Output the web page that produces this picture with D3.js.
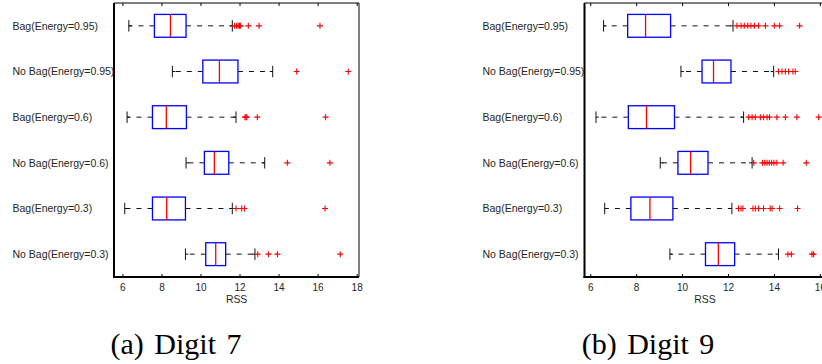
<!DOCTYPE html>
<html>
<head>
<meta charset="utf-8">
<script src="https://cdn.jsdelivr.net/npm/d3@7/dist/d3.min.js"></script>
<style>
  html, body { margin: 0; padding: 0; background: #fff; }
  svg { display: block; }
  .lbl { font-family: "Liberation Sans", Arial, Helvetica, sans-serif; fill: #262626; }
  .cap { font-family: "Liberation Serif", "Times New Roman", serif; fill: #000; word-spacing: 3px; }
</style>
</head>
<body>
<svg id="chart" width="822" height="364"></svg>
<script>
// Row labels, top to bottom
const categories = [
  "Bag(Energy=0.95)", "No Bag(Energy=0.95)",
  "Bag(Energy=0.6)",  "No Bag(Energy=0.6)",
  "Bag(Energy=0.3)",  "No Bag(Energy=0.3)"
];
const xTicks = [6, 8, 10, 12, 14, 16, 18];

// Digit 7 box statistics (RSS)
const digit7Low    = [6.33, 8.56, 6.24, 9.26, 6.12, 9.23];
const digit7Q1     = [7.64, 10.12, 7.54, 10.20, 7.54, 10.27];
const digit7Median = [8.46, 10.97, 8.25, 10.71, 8.27, 10.78];
const digit7Q3     = [9.26, 11.92, 9.28, 11.45, 9.23, 11.29];
const digit7High   = [11.63, 13.70, 11.82, 13.29, 11.63, 12.79];
const digit7Outliers = [
  [11.75, 11.85, 11.93, 12.00, 12.06, 12.45, 13.00, 16.12],
  [14.93, 17.57],
  [12.28, 12.33, 12.37, 12.91, 16.41],
  [14.45, 16.63],
  [11.82, 12.11, 12.25, 16.38],
  [12.93, 13.48, 13.94, 17.16]
];

// Digit 9 box statistics (RSS)
const digit9Low    = [6.58, 9.95, 6.25, 9.05, 6.63, 9.47];
const digit9Q1     = [7.63, 10.87, 7.66, 9.82, 7.77, 11.02];
const digit9Median = [8.41, 11.37, 8.45, 10.37, 8.60, 11.58];
const digit9Q3     = [9.50, 12.13, 9.67, 11.13, 9.60, 12.29];
const digit9High   = [12.22, 13.99, 12.68, 13.05, 12.17, 14.20];
const digit9Outliers = [
  [12.39, 12.57, 12.71, 12.86, 13.00, 13.15, 13.33, 13.63, 14.02, 14.25, 15.12],
  [14.20, 14.35, 14.50, 14.64, 14.83, 14.93],
  [12.90, 13.05, 13.19, 13.41, 13.55, 13.70, 13.81, 14.13, 14.50, 15.00, 15.95],
  [13.12, 13.50, 13.60, 13.70, 13.80, 13.90, 14.00, 14.13, 14.40, 15.41],
  [12.46, 12.57, 12.65, 13.09, 13.19, 13.33, 13.55, 13.84, 13.92, 14.25, 15.03],
  [14.61, 14.76, 15.66, 15.73]
];

const captions = ["(a) Digit 7", "(b) Digit 9"];

const svg = d3.select("#chart");

function build(low, q1, med, q3, high, outl) {
  return categories.map((c, i) => ({
    name: c, low: low[i], q1: q1[i], med: med[i], q3: q3[i], high: high[i], out: outl[i]
  }));
}

function drawPanel(cfg) {
  const g = svg.append("g");
  const x = d3.scaleLinear().domain(cfg.domain).range([cfg.left, cfg.right]);
  const y = d3.scaleBand().domain(categories).range([cfg.top, cfg.bottom]);
  const bw = y.bandwidth();
  const boxH = bw * 0.5;
  const capH = bw * 0.25;

  // row labels
  g.selectAll("text.row").data(cfg.rows).join("text")
    .attr("class", "lbl")
    .attr("x", cfg.labelX)
    .attr("y", d => y(d.name) + bw / 2)
    .attr("dy", "0.36em")
    .attr("font-size", 10.5)
    .text(d => d.name);

  const rowsG = g.selectAll("g.row").data(cfg.rows).join("g")
    .attr("transform", d => `translate(0,${y(d.name) + bw / 2})`);

  // dashed whiskers
  rowsG.append("line")
    .attr("x1", d => x(d.q1)).attr("x2", d => x(d.low))
    .attr("stroke", "#111").attr("stroke-width", 1)
    .attr("stroke-dasharray", "5,6");
  rowsG.append("line")
    .attr("x1", d => x(d.q3)).attr("x2", d => x(d.high))
    .attr("stroke", "#111").attr("stroke-width", 1)
    .attr("stroke-dasharray", "5,6");
  // whisker caps
  rowsG.append("line")
    .attr("x1", d => x(d.low)).attr("x2", d => x(d.low))
    .attr("y1", -capH / 2).attr("y2", capH / 2)
    .attr("stroke", "#111").attr("stroke-width", 1);
  rowsG.append("line")
    .attr("x1", d => x(d.high)).attr("x2", d => x(d.high))
    .attr("y1", -capH / 2).attr("y2", capH / 2)
    .attr("stroke", "#111").attr("stroke-width", 1);
  // short stubs next to the caps
  rowsG.append("line")
    .attr("x1", d => x(d.low)).attr("x2", d => x(d.low) + 3)
    .attr("stroke", "#111").attr("stroke-width", 1);
  rowsG.append("line")
    .attr("x1", d => x(d.high) - 3).attr("x2", d => x(d.high))
    .attr("stroke", "#111").attr("stroke-width", 1);

  // box
  rowsG.append("rect")
    .attr("x", d => x(d.q1)).attr("width", d => x(d.q3) - x(d.q1))
    .attr("y", -boxH / 2).attr("height", boxH)
    .attr("fill", "#fff").attr("stroke", "#0000ff").attr("stroke-width", 1.3);
  // median
  rowsG.append("line")
    .attr("x1", d => x(d.med)).attr("x2", d => x(d.med))
    .attr("y1", -boxH / 2).attr("y2", boxH / 2)
    .attr("stroke", "#ff0000").attr("stroke-width", 1.3);

  // outliers as red plus marks
  const s = 3;
  rowsG.each(function (d) {
    d3.select(this).selectAll("path.out").data(d.out).join("path")
      .attr("d", v => `M${x(v) - s},0H${x(v) + s}M${x(v)},${-s}V${s}`)
      .attr("stroke", "#ff0000").attr("stroke-width", 1.1).attr("fill", "none");
  });

  // frame
  g.append("line").attr("x1", cfg.left).attr("x2", cfg.right)
    .attr("y1", cfg.top).attr("y2", cfg.top).attr("stroke", "#000").attr("stroke-width", 1);
  g.append("line").attr("x1", cfg.right).attr("x2", cfg.right)
    .attr("y1", cfg.top).attr("y2", cfg.bottom).attr("stroke", "#000").attr("stroke-width", 1);
  g.append("line").attr("x1", cfg.left).attr("x2", cfg.left)
    .attr("y1", cfg.top).attr("y2", cfg.bottom + 1).attr("stroke", "#000").attr("stroke-width", 2);

  // bottom axis with inward ticks
  const axB = d3.axisBottom(x).tickValues(xTicks).tickSize(-3).tickPadding(7).tickFormat(d3.format("d"));
  const bAx = g.append("g").attr("transform", `translate(0,${cfg.bottom})`).call(axB);
  bAx.select(".domain").attr("stroke-width", 2).attr("d", `M${cfg.left - 1},0H${cfg.right}`);
  bAx.selectAll(".tick line").attr("stroke", "#000");
  bAx.selectAll(".tick text")
    .attr("class", "lbl").attr("font-size", 10).attr("fill", "#262626");

  // top ticks
  const axT = d3.axisTop(x).tickValues(xTicks).tickSize(-3).tickFormat("");
  const tAx = g.append("g").attr("transform", `translate(0,${cfg.top})`).call(axT);
  tAx.select(".domain").remove();
  tAx.selectAll(".tick line").attr("stroke", "#000");

  // axis title
  g.append("text").attr("class", "lbl")
    .attr("x", x(cfg.titleAt)).attr("y", cfg.bottom + 26)
    .attr("text-anchor", "middle").attr("font-size", 10.4)
    .text("RSS");

  // caption
  g.append("text").attr("class", "cap")
    .attr("x", cfg.capX).attr("y", 354)
    .attr("text-anchor", "middle")
    .attr("font-size", 30)
    .text(cfg.caption);
}

drawPanel({
  rows: build(digit7Low, digit7Q1, digit7Median, digit7Q3, digit7High, digit7Outliers),
  domain: [5.57, 18.12], left: 114, right: 359, top: 3, bottom: 277,
  labelX: 12.5, titleAt: 11.85, capX: 176, caption: captions[0]
});

drawPanel({
  rows: build(digit9Low, digit9Q1, digit9Median, digit9Q3, digit9High, digit9Outliers),
  domain: [5.75, 16.4], left: 584.5, right: 829, top: 3, bottom: 277,
  labelX: 482.5, titleAt: 11.0, capX: 648, caption: captions[1]
});
</script>
</body>
</html>
